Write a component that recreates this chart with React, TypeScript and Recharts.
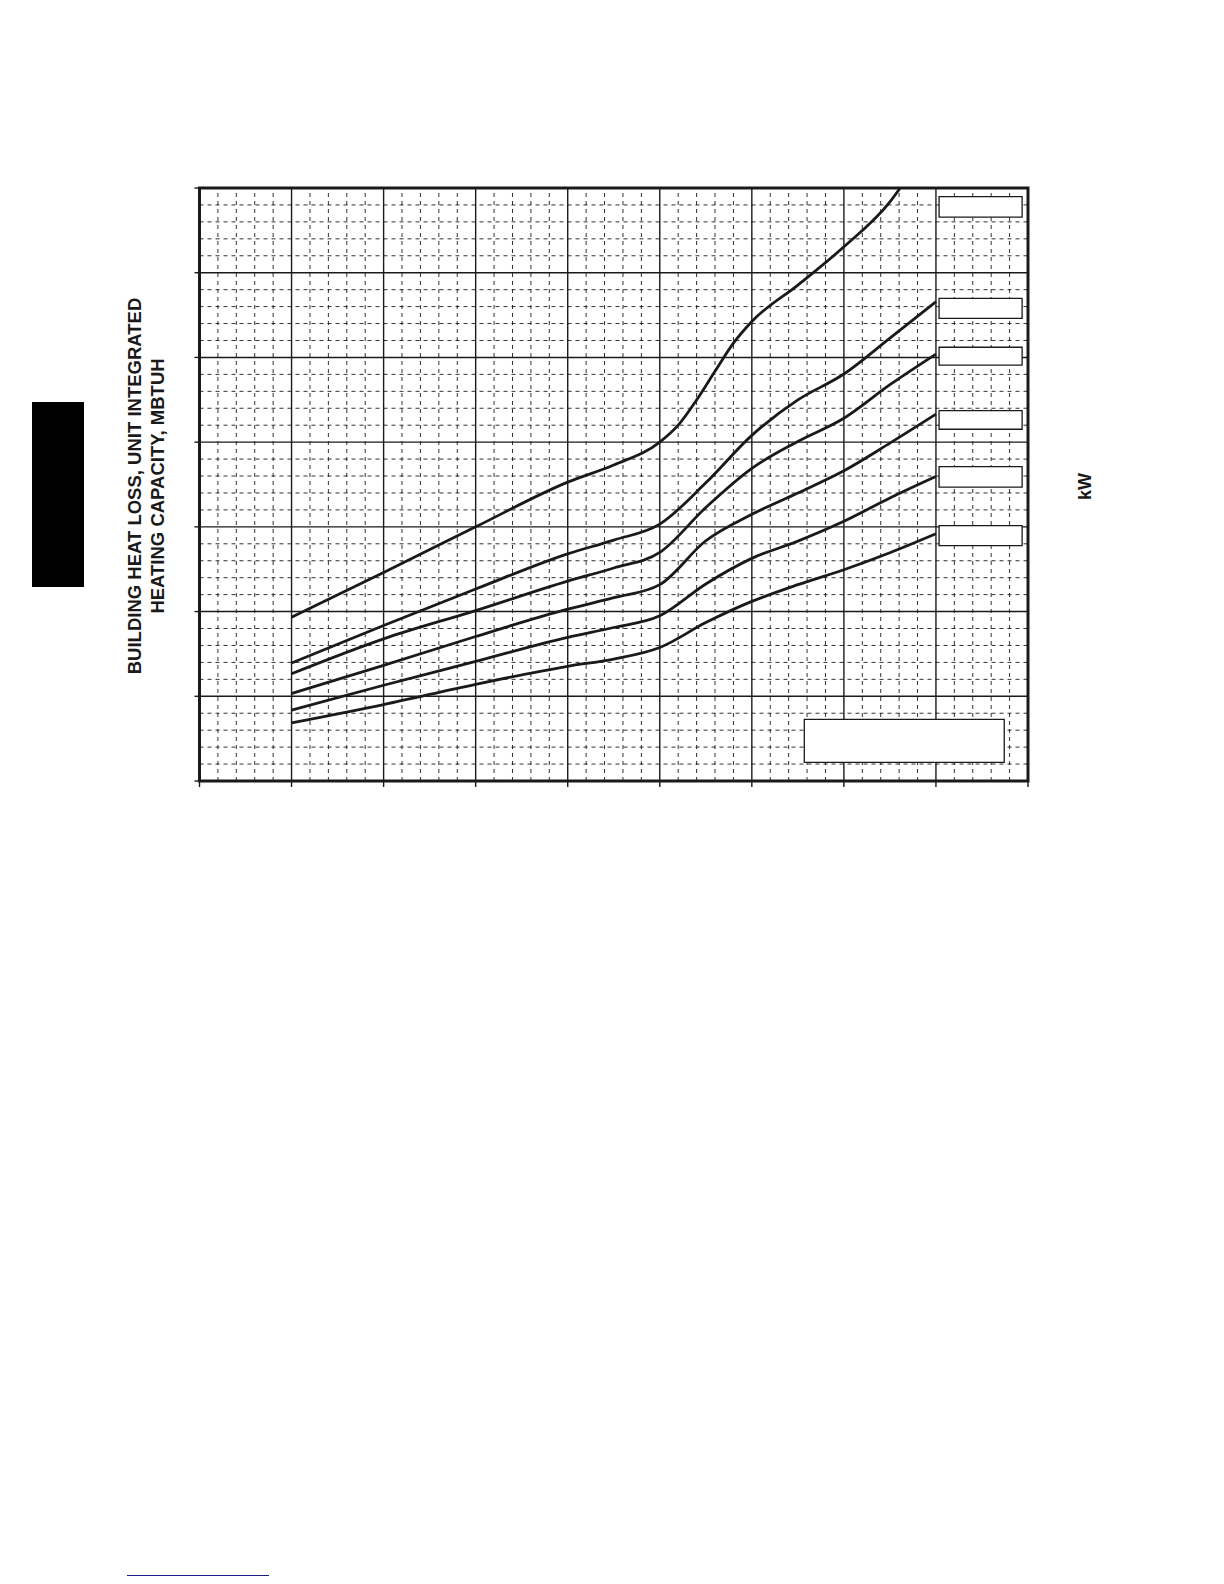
import { LineChart, Line, XAxis, YAxis, CartesianGrid, ReferenceArea, ReferenceLine } from 'recharts';

// grid is in minor divisions: 45 across, 35 up, majors every 5
const majorX = [0, 5, 10, 15, 20, 25, 30, 35, 40, 45];
const majorY = [0, 5, 10, 15, 20, 25, 30, 35];
const minorX = Array.from({ length: 46 }, (_, i) => i).filter((v) => v % 5 !== 0);
const minorY = Array.from({ length: 36 }, (_, i) => i).filter((v) => v % 5 !== 0);

// curves
const curveX = [5, 10, 15, 20, 22.5, 25, 27.5, 30, 32.5, 35, 37.5, 40];
const curveB = [6.96, 9.18, 11.33, 13.41, 14.22, 15.16, 17.6, 20.4, 22.49, 24.02, 26.14, 28.29];
const curveC = [6.33, 8.39, 10.06, 11.8, 12.57, 13.49, 16.14, 18.45, 20.04, 21.41, 23.39, 25.2];
const curveD = [5.16, 6.82, 8.53, 10.14, 10.82, 11.59, 14.18, 15.74, 17.0, 18.31, 19.94, 21.65];
const curveE = [4.18, 5.65, 7.06, 8.48, 9.06, 9.75, 11.63, 13.14, 14.16, 15.33, 16.71, 17.98];
const curveF = [3.43, 4.51, 5.71, 6.77, 7.2, 7.88, 9.35, 10.6, 11.59, 12.47, 13.47, 14.59];

const topCurveX = [5, 10, 15, 20, 22.5, 25, 26, 27, 28, 29, 30, 32.5, 35, 37.5, 38.06];
const topCurveY = [9.67, 12.31, 15.0, 17.64, 18.65, 20.0, 21.0, 22.49, 24.18, 25.84, 27.12, 29.27, 31.53, 34.18, 35.0];

// blank label boxes (text removed in the source)
const tagX: [number, number] = [40.17, 44.68];
const tagRows: [number, number][] = [
  [33.28, 34.49],
  [27.31, 28.49],
  [24.54, 25.6],
  [20.76, 21.86],
  [17.34, 18.55],
  [13.89, 15.07],
];
const noteBox = { x1: 32.85, x2: 43.71, y1: 1.1, y2: 3.64 };

const toPoints = (xs: number[], ys: number[]) => xs.map((x, i) => ({ x, y: ys[i] }));

const series = [
  toPoints(topCurveX, topCurveY),
  toPoints(curveX, curveB),
  toPoints(curveX, curveC),
  toPoints(curveX, curveD),
  toPoints(curveX, curveE),
  toPoints(curveX, curveF),
];

const INK = '#1a1a1a';
const FONT = '"Liberation Sans", Arial, sans-serif';

const NoTick = () => <g />;

const YTitle = (props: any) => {
  const vb = props.viewBox;
  const cy = vb.y + vb.height / 2 + 1.5;
  const x1 = vb.x - 48.8;
  const x2 = vb.x - 25.3;
  const style = { fontFamily: FONT, fontWeight: 700, fontSize: 18.5, fill: INK };
  return (
    <g>
      <text x={x1} y={cy} textAnchor="middle" transform={`rotate(-90, ${x1}, ${cy})`} style={style}>
        BUILDING HEAT LOSS, UNIT INTEGRATED
      </text>
      <text x={x2} y={cy} textAnchor="middle" transform={`rotate(-90, ${x2}, ${cy})`} style={style}>
        HEATING CAPACITY, MBTUH
      </text>
    </g>
  );
};

const KwTitle = (props: any) => {
  const vb = props.viewBox;
  const cy = vb.y + vb.height / 2 + 2;
  const x = vb.x + 63;
  return (
    <text
      x={x}
      y={cy}
      textAnchor="middle"
      transform={`rotate(-90, ${x}, ${cy})`}
      style={{ fontFamily: FONT, fontWeight: 700, fontSize: 18, fill: INK }}
    >
      kW
    </text>
  );
};

export default function App() {
  return (
    <div style={{ position: 'relative', width: 1208, height: 1568, background: '#fff' }}>
      <div style={{ position: 'absolute', left: 24, top: 394, width: 52, height: 185, background: '#000' }} />
      <div style={{ position: 'absolute', left: 119, top: 1567, width: 142, height: 1, background: '#1c1c8a' }} />
      <div style={{ position: 'absolute', left: 0, top: 0 }}>
        <LineChart width={1208} height={800} margin={{ top: 180, right: 178, bottom: 17, left: 181.5 }}>
          <CartesianGrid stroke={INK} strokeWidth={1.4} />
          <XAxis
            type="number"
            dataKey="x"
            domain={[0, 45]}
            ticks={majorX}
            tick={NoTick}
            tickSize={6}
            tickLine={{ stroke: INK, strokeWidth: 1.4 }}
            axisLine={false}
            height={10}
            allowDataOverflow
          />
          <YAxis
            type="number"
            domain={[0, 35]}
            ticks={majorY}
            tick={NoTick}
            tickSize={5}
            tickLine={{ stroke: INK, strokeWidth: 1.4 }}
            axisLine={false}
            width={10}
            allowDataOverflow
            label={{ content: YTitle }}
          />
          <YAxis
            yAxisId="right"
            orientation="right"
            type="number"
            domain={[0, 35]}
            ticks={majorY}
            tick={NoTick}
            tickSize={6}
            tickLine={{ stroke: INK, strokeWidth: 1.4 }}
            axisLine={false}
            width={10}
            label={{ content: KwTitle }}
          />
          {minorX.map((v) => (
            <ReferenceLine key={`vx${v}`} x={v} stroke={INK} strokeWidth={0.9} strokeDasharray="4 4" zIndex={-90} />
          ))}
          {minorY.map((v) => (
            <ReferenceLine key={`hy${v}`} y={v} stroke={INK} strokeWidth={0.9} strokeDasharray="4 4" zIndex={-90} />
          ))}
          {series.map((pts, i) => (
            <Line
              key={i}
              data={pts}
              dataKey="y"
              type="monotone"
              stroke={INK}
              strokeWidth={2.8}
              dot={false}
              activeDot={false}
              isAnimationActive={false}
            />
          ))}
          {tagRows.map(([y1, y2], i) => (
            <ReferenceArea
              key={i}
              x1={tagX[0]}
              x2={tagX[1]}
              y1={y1}
              y2={y2}
              fill="#fff"
              fillOpacity={1}
              stroke={INK}
              strokeWidth={1.3}
              ifOverflow="visible"
              zIndex={700}
            />
          ))}
          <ReferenceArea
            x1={noteBox.x1}
            x2={noteBox.x2}
            y1={noteBox.y1}
            y2={noteBox.y2}
            fill="#fff"
            fillOpacity={1}
            stroke={INK}
            strokeWidth={1.3}
            ifOverflow="visible"
            zIndex={700}
          />
          <ReferenceArea
            x1={0}
            x2={45}
            y1={0}
            y2={35}
            fill="none"
            stroke={INK}
            strokeWidth={3}
            ifOverflow="visible"
            zIndex={800}
          />
        </LineChart>
      </div>
    </div>
  );
}
